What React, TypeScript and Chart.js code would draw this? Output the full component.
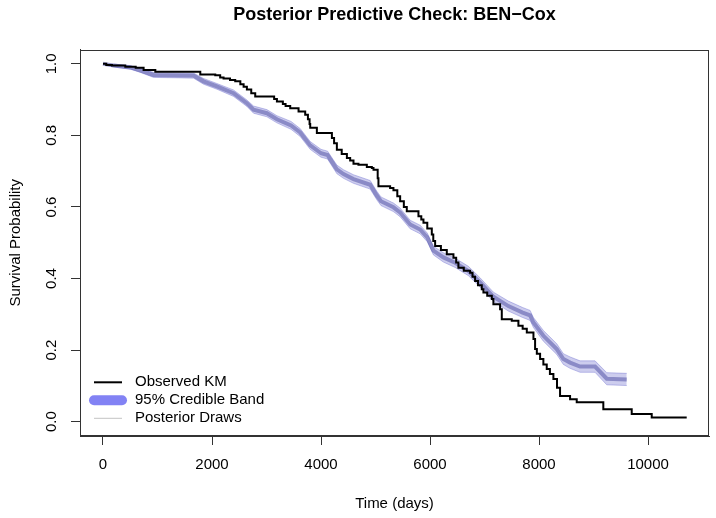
import React, { useEffect, useRef } from "react";
import { Chart, registerables } from "chart.js";

Chart.register(...registerables);

// ---- Observed Kaplan-Meier step curve (time in days, survival) ----
const kmTime = [
  0, 60, 165, 409, 600, 745, 960, 1785, 2060, 2150, 2212, 2330, 2426, 2520, 2580, 2640, 2720, 2793,
  3140, 3191, 3300, 3350, 3435, 3588, 3710, 3760, 3790, 3802, 3924, 4200, 4240, 4291, 4380, 4475,
  4535, 4596, 4687, 4841, 4933, 4963, 5040, 5054, 5268, 5329, 5400, 5452, 5520, 5574, 5788, 5840,
  5880, 5950, 6033, 6060, 6094, 6200, 6308, 6430, 6480, 6521, 6620, 6736, 6780, 6827, 6880, 6950,
  6980, 7050, 7134, 7163, 7286, 7317, 7500, 7622, 7700, 7776, 7898, 7928, 7960, 8020, 8080, 8142,
  8200, 8264, 8330, 8386, 8570, 8692, 9180, 9701, 10068, 10710,
];
const kmSurv = [
  1.0, 0.997, 0.995, 0.992, 0.989, 0.983, 0.978, 0.97, 0.968, 0.962, 0.959, 0.955, 0.951, 0.943, 0.936, 0.928, 0.918, 0.909,
  0.902, 0.895, 0.888, 0.882, 0.876, 0.867, 0.858, 0.845, 0.832, 0.821, 0.807, 0.793, 0.778, 0.76, 0.748, 0.737,
  0.73, 0.721, 0.718, 0.712, 0.709, 0.704, 0.68, 0.658, 0.653, 0.647, 0.63, 0.616, 0.6, 0.588, 0.574, 0.565,
  0.556, 0.54, 0.523, 0.505, 0.491, 0.48, 0.468, 0.458, 0.445, 0.43, 0.422, 0.416, 0.405, 0.393, 0.381, 0.37,
  0.361, 0.352, 0.343, 0.328, 0.314, 0.286, 0.282, 0.268, 0.26, 0.249, 0.231, 0.203, 0.19, 0.175, 0.16, 0.147,
  0.133, 0.119, 0.095, 0.072, 0.063, 0.054, 0.035, 0.0215, 0.012, 0.012,
];

// ---- Posterior predictive band ----
const bandTime = [
  0, 200, 500, 684, 928, 1662, 1845, 2090, 2395, 2640, 2762, 3007, 3191, 3450, 3618, 3802, 4000, 4120,
  4291, 4413, 4596, 4902, 5024, 5100, 5329, 5450, 5636, 5819, 5950, 6063, 6246, 6461, 6705, 6919, 7163,
  7438, 7700, 7836, 7898, 8080, 8325, 8447, 8570, 8753, 9028, 9243, 9610,
];
const bandMid = [
  1.0, 0.995, 0.99, 0.982, 0.969, 0.967, 0.951, 0.937, 0.918, 0.89, 0.872, 0.862, 0.845, 0.828, 0.808, 0.772, 0.75, 0.745,
  0.705, 0.692, 0.678, 0.662, 0.632, 0.616, 0.599, 0.585, 0.551, 0.537, 0.515, 0.478, 0.459, 0.444, 0.421, 0.389, 0.349,
  0.323, 0.305, 0.297, 0.277, 0.24, 0.203, 0.175, 0.165, 0.154, 0.154, 0.12, 0.118,
];
const bandLower = [
  0.998, 0.991, 0.985, 0.976, 0.962, 0.96, 0.943, 0.929, 0.909, 0.881, 0.862, 0.852, 0.835, 0.817, 0.797, 0.761, 0.739, 0.734,
  0.693, 0.68, 0.666, 0.65, 0.62, 0.604, 0.587, 0.573, 0.539, 0.525, 0.503, 0.466, 0.446, 0.431, 0.408, 0.376, 0.336,
  0.309, 0.291, 0.283, 0.263, 0.225, 0.188, 0.16, 0.149, 0.138, 0.138, 0.103, 0.101,
];
const bandUpper = [
  1.0, 0.999, 0.995, 0.988, 0.976, 0.974, 0.959, 0.945, 0.927, 0.899, 0.882, 0.872, 0.855, 0.839, 0.819, 0.783, 0.761, 0.756,
  0.717, 0.704, 0.69, 0.674, 0.644, 0.628, 0.611, 0.597, 0.563, 0.549, 0.527, 0.49, 0.472, 0.457, 0.434, 0.402, 0.362,
  0.337, 0.319, 0.311, 0.291, 0.255, 0.218, 0.19, 0.181, 0.17, 0.17, 0.137, 0.135,
];

const xTicks = [0, 2000, 4000, 6000, 8000, 10000];
const yTicks = [0, 0.2, 0.4, 0.6, 0.8, 1.0];
const legendLabels = ["Observed KM", "95% Credible Band", "Posterior Draws"];

const FONT = "'Liberation Sans', Arial, Helvetica, sans-serif";

const frame = {
  id: "rFrame",
  afterDraw(chart: any) {
    const { ctx, chartArea } = chart;
    ctx.save();
    ctx.strokeStyle = "#333";
    ctx.lineWidth = 1;
    const l = Math.round(chartArea.left) + 0.5;
    const t = Math.round(chartArea.top) + 0.5;
    const r = Math.round(chartArea.right) - 0.5;
    const b = Math.round(chartArea.bottom) - 0.5;
    ctx.strokeRect(l, t, r - l, b - t);

    // legend (bottom-left, no box)
    const x0 = 94, x1 = 122, tx = 135;
    const rows = [382.3, 400.3, 418.3];
    ctx.lineCap = "butt";
    ctx.strokeStyle = "#000";
    ctx.lineWidth = 2;
    ctx.beginPath(); ctx.moveTo(x0, rows[0]); ctx.lineTo(x1, rows[0]); ctx.stroke();
    ctx.lineCap = "round";
    ctx.strokeStyle = "#8282F4";
    ctx.lineWidth = 10;
    ctx.beginPath(); ctx.moveTo(x0, rows[1]); ctx.lineTo(x1, rows[1]); ctx.stroke();
    ctx.lineCap = "butt";
    ctx.strokeStyle = "#c4c4c4";
    ctx.lineWidth = 1;
    ctx.beginPath(); ctx.moveTo(x0, rows[2]); ctx.lineTo(x1, rows[2]); ctx.stroke();
    ctx.fillStyle = "#000";
    ctx.font = `15px ${FONT}`;
    ctx.textAlign = "left";
    ctx.textBaseline = "middle";
    legendLabels.forEach((s, i) => ctx.fillText(s, tx, rows[i]));
    ctx.restore();
  },
};

export default function App() {
  const ref = useRef<HTMLCanvasElement>(null);
  useEffect(() => {
    if (!ref.current) return;
    const km = kmTime.map((t, i) => ({ x: t, y: kmSurv[i] }));
    const up = bandTime.map((t, i) => ({ x: t, y: bandUpper[i] }));
    const lo = bandTime.map((t, i) => ({ x: t, y: bandLower[i] }));
    const mid = bandTime.map((t, i) => ({ x: t, y: bandMid[i] }));
    const tickFont = { family: FONT, size: 15 };
    const chart = new Chart(ref.current, {
      type: "line",
      data: {
        datasets: [
          { label: "Observed KM", data: km, borderColor: "#000", borderWidth: 2, stepped: true, pointRadius: 0, fill: false, order: 0 },
          { label: "Upper", data: up, borderColor: "rgba(90,90,200,0.35)", borderWidth: 1, pointRadius: 0, fill: false, order: 3 },
          { label: "95% Credible Band", data: lo, borderColor: "rgba(90,90,200,0.35)", borderWidth: 1, pointRadius: 0, fill: 1, backgroundColor: "rgba(90,90,200,0.3)", order: 2 },
          { label: "Posterior Draws", data: mid, borderColor: "rgba(60,60,150,0.45)", borderWidth: 4, pointRadius: 0, fill: false, order: 1 },
        ],
      },
      options: {
        animation: false,
        responsive: false,
        devicePixelRatio: 1,
        events: [],
        layout: { padding: { left: 0, right: 7, top: 0, bottom: 0 } },
        plugins: {
          legend: { display: false },
          tooltip: { enabled: false },
          title: {
            display: true,
            text: "Posterior Predictive Check: BEN\u2212Cox",
            fullSize: false,
            color: "#000",
            font: { family: FONT, size: 18, weight: "bold" },
            padding: { top: 4, bottom: 23.9 },
          },
        },
        scales: {
          x: {
            type: "linear",
            min: -422,
            max: 11119,
            afterBuildTicks: (s: any) => { s.ticks = xTicks.map((v) => ({ value: v })); },
            afterFit: (s: any) => { s.height = 82; },
            grid: { drawOnChartArea: false, drawTicks: true, tickLength: 9, color: "#333", lineWidth: 1 },
            border: { display: true, color: "#333", width: 1 },
            ticks: { color: "#000", font: tickFont, padding: 11, maxRotation: 0, minRotation: 0, autoSkip: false, callback: (v: any) => String(v) },
            title: { display: true, text: "Time (days)", color: "#000", font: tickFont, padding: { top: 0, bottom: 5.5 } },
          },
          y: {
            type: "linear",
            min: -0.04,
            max: 1.04,
            afterBuildTicks: (s: any) => { s.ticks = yTicks.map((v) => ({ value: v })); },
            afterFit: (s: any) => { s.width = 80; },
            grid: { drawOnChartArea: false, drawTicks: true, tickLength: 9, color: "#333", lineWidth: 1 },
            border: { display: true, color: "#333", width: 1 },
            ticks: { color: "#000", font: tickFont, padding: 8.5, minRotation: 90, maxRotation: 90, crossAlign: "center", autoSkip: false, callback: (v: any) => Number(v).toFixed(1) },
            title: { display: true, text: "Survival Probability", color: "#000", font: tickFont, padding: { top: 7, bottom: 0 } },
          },
        },
      },
      plugins: [frame],
    } as any);
    return () => chart.destroy();
  }, []);
  return (
    <div style={{ position: "absolute", left: 0, top: 0, width: 716, height: 518, background: "#fff" }}>
      <canvas ref={ref} width={716} height={518} style={{ display: "block" }} />
    </div>
  );
}
